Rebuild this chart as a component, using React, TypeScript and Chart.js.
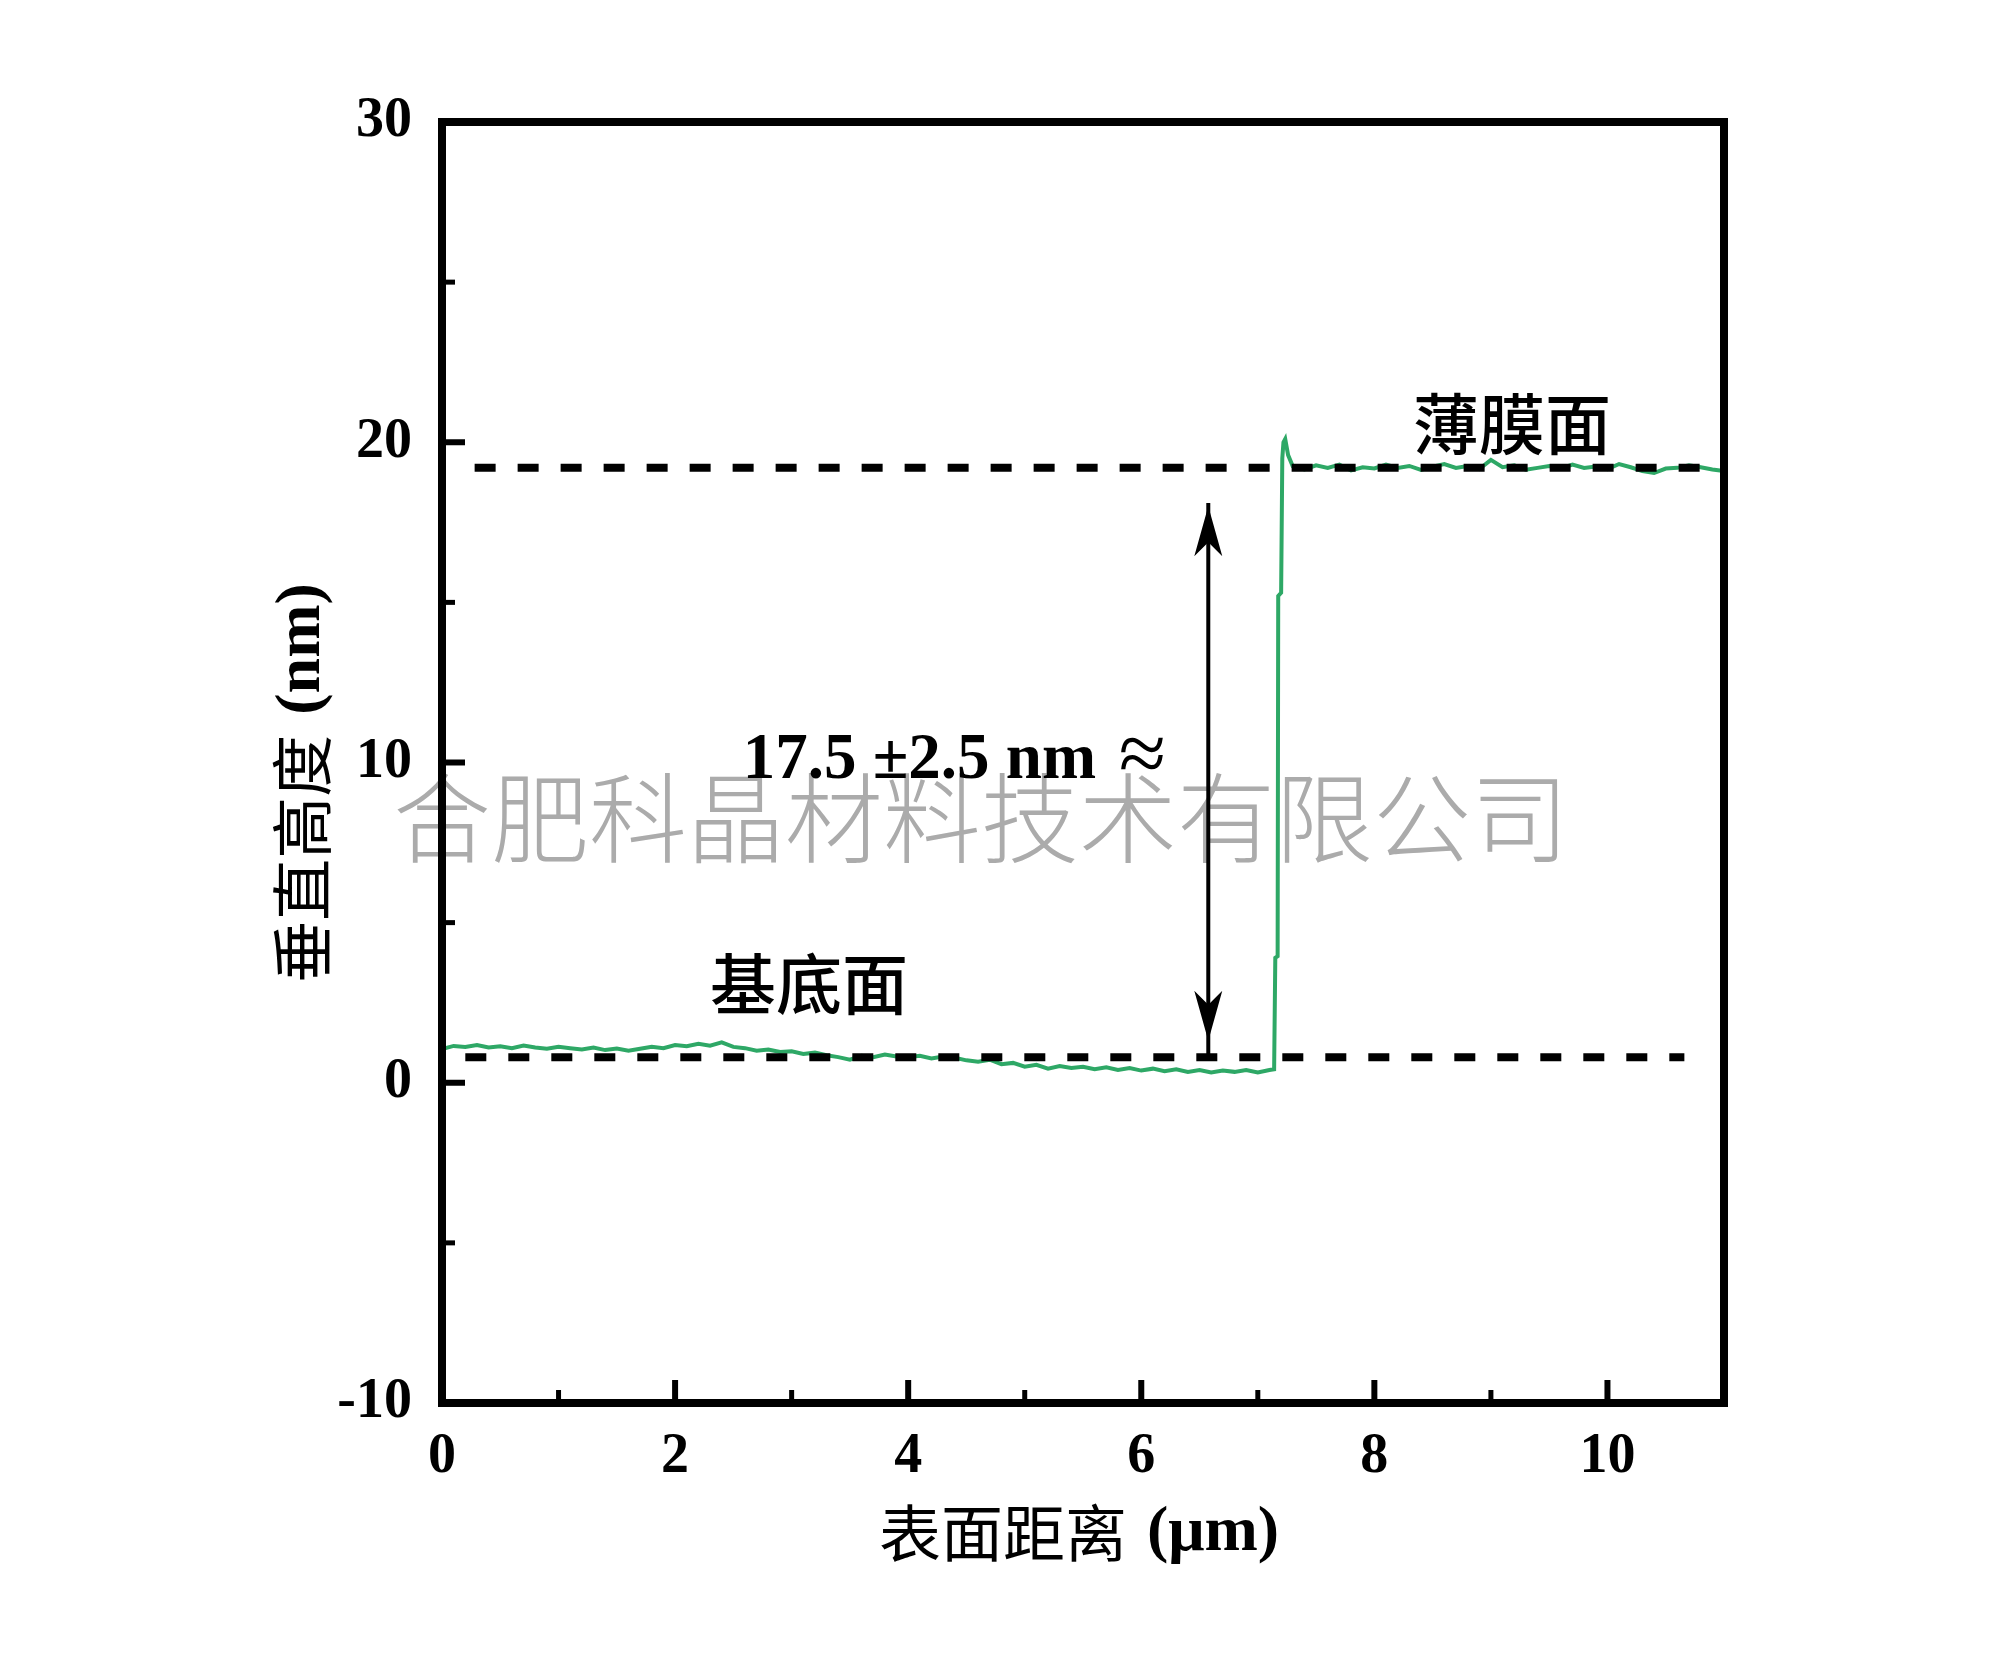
import { useEffect, useRef } from 'react';
import { Chart, registerables } from 'chart.js';

Chart.register(...registerables);

// ---- data ----
const profileX = [
  0, 0.1, 0.2, 0.3, 0.4, 0.5, 0.6, 0.7, 0.8, 0.9,
  1.0, 1.1, 1.2, 1.3, 1.4, 1.5, 1.6, 1.7, 1.8, 1.9,
  2.0, 2.1, 2.2, 2.3, 2.4, 2.5, 2.6, 2.7, 2.8, 2.9,
  3.0, 3.1, 3.2, 3.3, 3.4, 3.5, 3.6, 3.7, 3.8, 3.9,
  4.0, 4.1, 4.2, 4.3, 4.4, 4.5, 4.6, 4.7, 4.8, 4.9,
  5.0, 5.1, 5.2, 5.3, 5.4, 5.5, 5.6, 5.7, 5.8, 5.9,
  6.0, 6.1, 6.2, 6.3, 6.4, 6.5, 6.6, 6.7, 6.8, 6.9,
  7.0, 7.1,
  7.14, 7.15, 7.17, 7.175, 7.2, 7.21, 7.22, 7.235, 7.26,
  7.3, 7.4, 7.5, 7.6, 7.7, 7.8, 7.9,
  8.0, 8.1, 8.2, 8.3, 8.4, 8.5, 8.6, 8.7, 8.8, 8.9,
  9.0, 9.1, 9.2, 9.3, 9.4, 9.5, 9.6, 9.7, 9.8, 9.9,
  10.0, 10.1, 10.2, 10.3, 10.4, 10.5, 10.6, 10.7, 10.8, 10.9,
  11.0,
];
const profileY = [
  1.05, 1.15, 1.12, 1.18, 1.1, 1.14, 1.08, 1.16, 1.1, 1.06,
  1.12, 1.08, 1.04, 1.1, 1.02, 1.07, 1.0, 1.06, 1.12, 1.08,
  1.18, 1.14, 1.22, 1.16, 1.26, 1.12, 1.08, 1.0, 1.04, 0.96,
  0.98, 0.9, 0.94, 0.86, 0.8, 0.72, 0.84, 0.8, 0.88, 0.82,
  0.8, 0.84, 0.76, 0.82, 0.78, 0.7, 0.66, 0.72, 0.58, 0.62,
  0.5, 0.56, 0.44, 0.52, 0.46, 0.5, 0.42, 0.48, 0.4, 0.46,
  0.38, 0.44, 0.36, 0.42, 0.34, 0.4, 0.32, 0.38, 0.34, 0.4,
  0.32, 0.4,
  0.42, 3.9, 3.95, 15.2, 15.3, 19.5, 20.0, 20.1, 19.6,
  19.25, 19.15, 19.28, 19.2, 19.3, 19.12, 19.22,
  19.18, 19.3, 19.2, 19.26, 19.14, 19.24, 19.32, 19.2, 19.26, 19.16,
  19.45, 19.22, 19.28, 19.14, 19.2, 19.26, 19.18, 19.3, 19.2, 19.24,
  19.16, 19.32, 19.22, 19.1, 19.04, 19.18, 19.2, 19.28, 19.22, 19.15,
  19.1,
];
const filmLevelX = [0.28, 11];
const filmLevelY = [19.2, 19.2];
const substrateLevelX = [0.2, 10.66];
const substrateLevelY = [0.8, 0.8];
const arrowX = [6.575, 6.575];
const arrowY = [0.8, 18.1];
const arrowTipTop = 18.0;
const arrowTipBottom = 1.31;

const xMinorTicks = [1, 3, 5, 7, 9];
const yMinorTicks = [-5, 5, 15, 25];

const xTitleCn = '表面距离';
const xTitleUnit = '(μm)';
const yTitleCn = '垂直高度';
const yTitleUnit = '(nm)';
const filmLabel = '薄膜面';
const substrateLabel = '基底面';
const stepLabel = '17.5 ±2.5 nm';
const approxMark = '≈';
const watermarkText = '合肥科晶材料技术有限公司';

// annotation anchors (data units)
const filmLabelAt = { x: 9.18, y: 19.79 };
const substrateLabelAt = { x: 3.15, y: 2.31 };
const stepLabelAt = { x: 2.58, y: 9.52 };
const approxAt = { x: 6.01, y: 9.38 };

// ---- styles ----
const GREEN = 'rgb(46,168,102)';
const SERIF = "'Liberation Serif', 'Times New Roman', serif";
const CJK = "'Noto Sans CJK SC', sans-serif";

function drawMixed(ctx: CanvasRenderingContext2D, cn: string, unit: string, cx: number, cy: number, rotate: boolean) {
  ctx.save();
  ctx.translate(cx, cy);
  if (rotate) ctx.rotate(-Math.PI / 2);
  const cnFont = `400 62px ${CJK}`;
  const unitFont = `bold 64px ${SERIF}`;
  ctx.font = cnFont;
  const w1 = ctx.measureText(cn).width;
  ctx.font = unitFont;
  const w2 = ctx.measureText(unit).width;
  const gap = 20;
  const sx = -(w1 + gap + w2) / 2;
  ctx.textBaseline = 'middle';
  ctx.textAlign = 'left';
  ctx.fillStyle = '#000';
  ctx.font = cnFont;
  ctx.fillText(cn, sx, 0);
  ctx.font = unitFont;
  ctx.fillText(unit, sx + w1 + gap, 0);
  ctx.restore();
}

const decorPlugin = {
  id: 'decor',
  beforeDraw(chart: any) {
    const { ctx, width, height } = chart;
    ctx.save();
    ctx.fillStyle = '#fff';
    ctx.fillRect(0, 0, width, height);
    ctx.font = `300 98px ${CJK}`;
    ctx.fillStyle = '#ababab';
    ctx.textAlign = 'center';
    ctx.textBaseline = 'middle';
    ctx.fillText(watermarkText, 981, 818);
    ctx.restore();
  },
  afterDatasetsDraw(chart: any) {
    const { ctx, chartArea: ca } = chart;
    const xs = chart.scales.x;
    const ys = chart.scales.y;
    ctx.save();
    ctx.strokeStyle = '#000';
    ctx.lineCap = 'butt';
    const xTick = (v: number, len: number, w: number) => {
      const px = xs.getPixelForValue(v);
      ctx.lineWidth = w;
      ctx.beginPath();
      ctx.moveTo(px, ca.bottom);
      ctx.lineTo(px, ca.bottom - len);
      ctx.stroke();
    };
    const yTick = (v: number, len: number, w: number) => {
      const py = ys.getPixelForValue(v);
      ctx.lineWidth = w;
      ctx.beginPath();
      ctx.moveTo(ca.left, py);
      ctx.lineTo(ca.left + len, py);
      ctx.stroke();
    };
    xs.ticks.forEach((t: any) => xTick(t.value, 23, 6));
    xMinorTicks.forEach((v) => xTick(v, 13, 5));
    ys.ticks.forEach((t: any) => yTick(t.value, 23, 6));
    yMinorTicks.forEach((v) => yTick(v, 13, 5));

    // frame
    ctx.lineWidth = 8;
    ctx.lineJoin = 'miter';
    ctx.strokeRect(ca.left, ca.top, ca.right - ca.left, ca.bottom - ca.top);

    // arrow heads
    const ax = xs.getPixelForValue(arrowX[0]);
    const head = (tipY: number, dir: number) => {
      ctx.fillStyle = '#000';
      ctx.beginPath();
      ctx.moveTo(ax, tipY);
      ctx.lineTo(ax - 14, tipY + 50 * dir);
      ctx.lineTo(ax, tipY + 36 * dir);
      ctx.lineTo(ax + 14, tipY + 50 * dir);
      ctx.closePath();
      ctx.fill();
    };
    head(ys.getPixelForValue(arrowTipTop), 1);
    head(ys.getPixelForValue(arrowTipBottom), -1);

    // annotation texts
    ctx.fillStyle = '#000';
    ctx.textBaseline = 'alphabetic';
    ctx.textAlign = 'center';
    ctx.font = `500 66px ${CJK}`;
    ctx.fillText(filmLabel, xs.getPixelForValue(filmLabelAt.x), ys.getPixelForValue(filmLabelAt.y));
    ctx.fillText(substrateLabel, xs.getPixelForValue(substrateLabelAt.x), ys.getPixelForValue(substrateLabelAt.y));
    ctx.textAlign = 'left';
    ctx.font = `bold 65px ${SERIF}`;
    ctx.fillText(stepLabel, xs.getPixelForValue(stepLabelAt.x), ys.getPixelForValue(stepLabelAt.y));
    ctx.textAlign = 'center';
    ctx.font = `normal 86px ${SERIF}`;
    ctx.fillText(approxMark, xs.getPixelForValue(approxAt.x), ys.getPixelForValue(approxAt.y));

    // axis titles
    drawMixed(ctx, xTitleCn, xTitleUnit, 1079, 1533, false);
    drawMixed(ctx, yTitleCn, yTitleUnit, 302, 783, true);
    ctx.restore();
  },
};

const tickFont = { family: SERIF, size: 56, weight: 'bold' as const };

export default function App() {
  const ref = useRef<HTMLCanvasElement>(null);
  useEffect(() => {
    const toPts = (xa: number[], ya: number[]) => xa.map((x, i) => ({ x, y: ya[i] }));
    const chart = new Chart(ref.current as HTMLCanvasElement, {
      type: 'line',
      data: {
        datasets: [
          {
            data: toPts(filmLevelX, filmLevelY),
            borderColor: '#000',
            borderWidth: 8,
            borderDash: [21, 22],
            borderCapStyle: 'butt',
            pointRadius: 0,
          },
          {
            data: toPts(substrateLevelX, substrateLevelY),
            borderColor: '#000',
            borderWidth: 8,
            borderDash: [21, 22],
            borderCapStyle: 'butt',
            pointRadius: 0,
          },
          {
            data: toPts(arrowX, arrowY),
            borderColor: '#000',
            borderWidth: 4,
            pointRadius: 0,
          },
          {
            data: toPts(profileX, profileY),
            borderColor: GREEN,
            borderWidth: 4,
            pointRadius: 0,
            tension: 0,
          },
        ],
      } as any,
      options: {
        animation: false,
        responsive: false,
        devicePixelRatio: 1,
        events: [],
        layout: { padding: { left: 0, right: 276, top: 122, bottom: 0 } },
        plugins: { legend: { display: false }, tooltip: { enabled: false } },
        scales: {
          x: {
            type: 'linear',
            min: 0,
            max: 11,
            grid: { display: false, drawTicks: false },
            border: { display: false },
            ticks: {
              stepSize: 2,
              includeBounds: false,
              autoSkip: false,
              maxRotation: 0,
              padding: 21,
              color: '#000',
              font: tickFont,
              callback: (v: any) => String(v),
            },
            afterFit: (s: any) => {
              s.height = 262;
            },
          },
          y: {
            type: 'linear',
            min: -10,
            max: 30,
            grid: { display: false, drawTicks: false },
            border: { display: false },
            ticks: {
              stepSize: 10,
              padding: 30,
              color: '#000',
              font: tickFont,
              callback: (v: any) => String(v),
            },
            afterFit: (s: any) => {
              s.width = 442;
            },
          },
        },
      } as any,
      plugins: [decorPlugin],
    });
    return () => chart.destroy();
  }, []);
  return (
    <div style={{ position: 'absolute', left: 0, top: 0, width: 2000, height: 1665, background: '#fff' }}>
      <canvas ref={ref} width={2000} height={1665} style={{ display: 'block', width: 2000, height: 1665 }} />
    </div>
  );
}
